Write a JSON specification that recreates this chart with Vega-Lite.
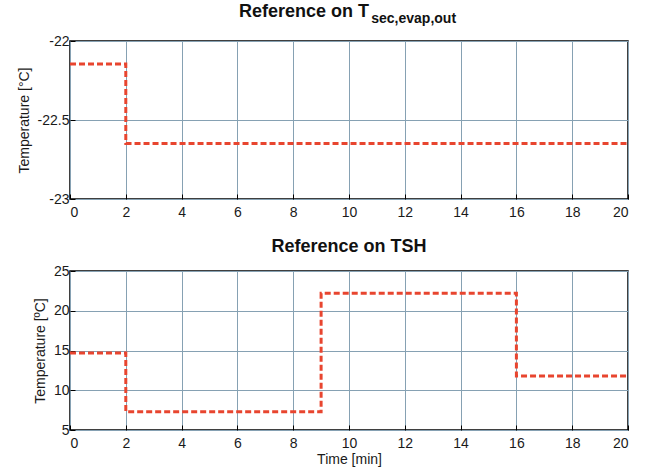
{
  "$schema": "https://vega.github.io/schema/vega-lite/v6.json",
  "padding": {"left": 16, "top": 2, "right": 5, "bottom": 5},
  "background": "white",
  "spacing": 17,
  "config": {
    "font": "Liberation Sans",
    "view": {"stroke": "#000000", "strokeWidth": 1.5},
    "axis": {
      "domain": false,
      "grid": true,
      "gridColor": "#86a1b3",
      "gridOpacity": 1,
      "gridWidth": 1,
      "ticks": true,
      "tickSize": -5,
      "tickColor": "#000000",
      "tickWidth": 1,
      "labelFont": "Liberation Sans",
      "labelFontSize": 14,
      "labelColor": "#1a1a1a",
      "labelExpr": "'' + datum.value",
      "titleFont": "Liberation Sans",
      "titleFontSize": 14,
      "titleFontWeight": "normal",
      "titleColor": "#1a1a1a"
    },
    "title": {
      "font": "Liberation Sans",
      "fontSize": 18,
      "fontWeight": "bold",
      "color": "#111111",
      "subtitleFont": "Liberation Sans",
      "subtitleFontSize": 14,
      "subtitleFontWeight": "bold",
      "subtitleColor": "#111111"
    }
  },
  "vconcat": [
    {
      "width": 558,
      "height": 158,
      "title": {
        "text": "Reference on T",
        "subtitle": "\u200b\u00a0\u00a0\u00a0\u00a0\u00a0\u00a0\u00a0\u00a0\u00a0\u00a0\u00a0\u00a0\u00a0\u00a0\u00a0\u00a0\u00a0\u00a0\u00a0\u00a0\u00a0\u00a0\u00a0\u00a0\u00a0\u00a0\u00a0\u00a0\u00a0\u00a0\u00a0\u00a0\u00a0\u00a0sec,evap,out",
        "anchor": "start",
        "frame": "group",
        "dx": 169,
        "subtitlePadding": -9,
        "offset": 8
      },
      "data": {"values": [
        {"t": 0, "temp": -22.145},
        {"t": 2, "temp": -22.648},
        {"t": 20, "temp": -22.648}
      ]},
      "mark": {"type": "line", "interpolate": "step-after", "color": "#e8452f", "strokeWidth": 3, "strokeDash": [6, 3]},
      "encoding": {
        "x": {"field": "t", "type": "quantitative", "scale": {"domain": [0, 20], "nice": false},
              "axis": {"values": [0, 2, 4, 6, 8, 10, 12, 14, 16, 18, 20], "title": null, "labelPadding": 11}},
        "y": {"field": "temp", "type": "quantitative", "scale": {"domain": [-23, -22], "nice": false, "zero": false},
              "axis": {"values": [-23, -22.5, -22], "title": "Temperature [°C]", "labelPadding": 6, "titlePadding": 6}}
      }
    },
    {
      "width": 558,
      "height": 159,
      "title": {"text": "Reference on TSH", "anchor": "middle", "offset": 8},
      "data": {"values": [
        {"t": 0, "temp": 14.7},
        {"t": 2, "temp": 7.3},
        {"t": 9, "temp": 22.2},
        {"t": 16, "temp": 11.8},
        {"t": 20, "temp": 11.8}
      ]},
      "mark": {"type": "line", "interpolate": "step-after", "color": "#e8452f", "strokeWidth": 3, "strokeDash": [6, 3]},
      "encoding": {
        "x": {"field": "t", "type": "quantitative", "scale": {"domain": [0, 20], "nice": false},
              "axis": {"values": [0, 2, 4, 6, 8, 10, 12, 14, 16, 18, 20], "title": "Time [min]", "labelPadding": 11, "titlePadding": 2}},
        "y": {"field": "temp", "type": "quantitative", "scale": {"domain": [5, 25], "nice": false, "zero": false},
              "axis": {"values": [5, 10, 15, 20, 25], "title": "Temperature [ºC]", "labelPadding": 6, "titlePadding": 6}}
      }
    }
  ]
}
